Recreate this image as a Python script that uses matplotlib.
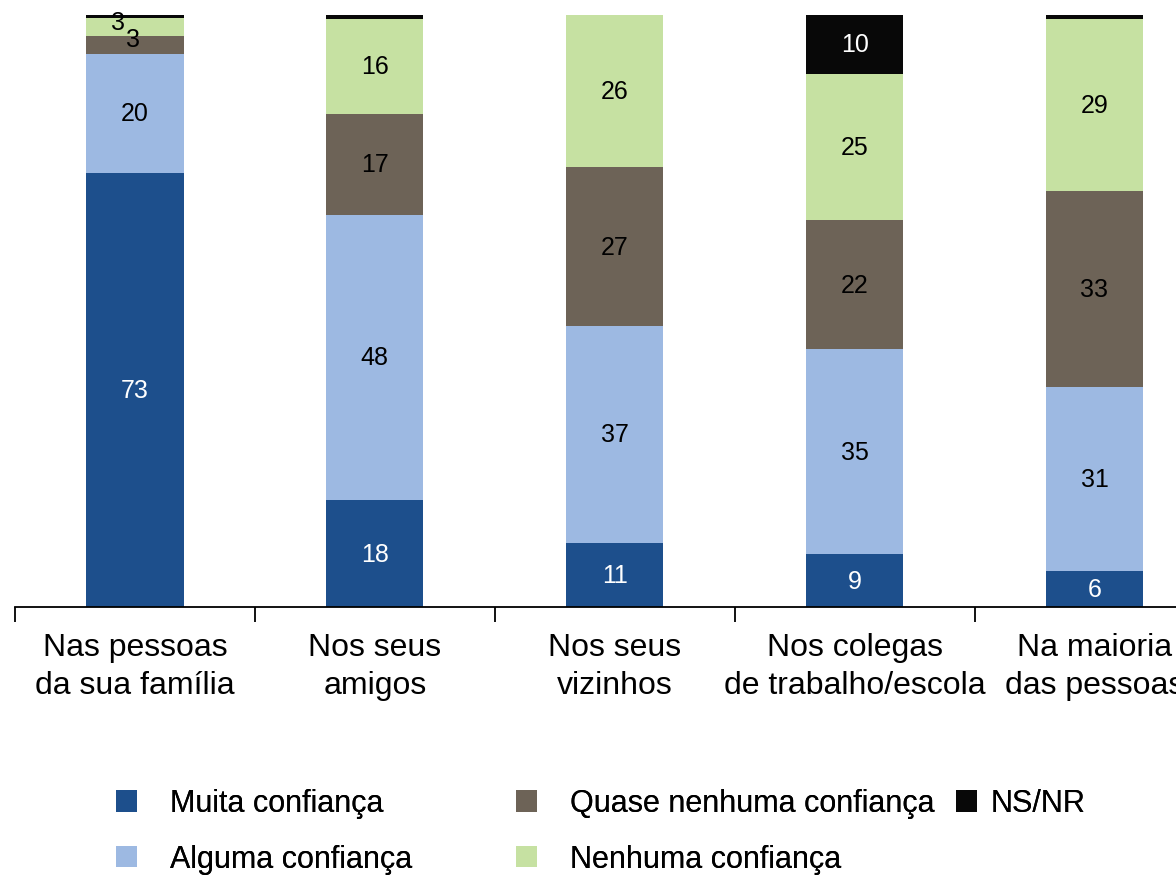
import numpy as np
import matplotlib.pyplot as plt
from matplotlib.patches import Patch

plt.rcParams['font.family'] = ['Liberation Sans', 'DejaVu Sans']

categorias = ["Nas pessoas\nda sua família", "Nos seus\namigos", "Nos seus\nvizinhos",
              "Nos colegas\nde trabalho/escola", "Na maioria\ndas pessoas"]
muita = [73, 18, 11, 9, 6]
alguma = [20, 48, 37, 35, 31]
quase = [3, 17, 27, 22, 33]
nenhuma = [3, 16, 26, 25, 29]
nsnr = [0.5, 0.6, 0, 10, 0.6]

series = [muita, alguma, quase, nenhuma, nsnr]
nomes = ["Muita confiança", "Alguma confiança", "Quase nenhuma confiança",
         "Nenhuma confiança", "NS/NR"]
cores = ["#1d4f8c", "#9db9e2", "#6d6357", "#c6e1a2", "#080808"]
cor_texto = ["white", "black", "black", "black", "white"]

# bars are drawn as 100% stacks (the rounded values do not always add to 100)
totais = np.sum(np.array(series, dtype=float), axis=0)

W, H = 1176, 879
fig = plt.figure(figsize=(W / 100, H / 100), dpi=100)
ax = fig.add_axes([15 / W, 1 - 608 / H, (W - 15) / W, 592 / H])

x = np.arange(len(categorias))
base = np.zeros(len(categorias))
for vals, cor, ct in zip(series, cores, cor_texto):
    vals = np.array(vals, dtype=float)
    alt = vals / totais * 100
    ax.bar(x, alt, bottom=base, width=0.405, color=cor, clip_on=False)
    for i, v in enumerate(vals):
        if v >= 5:
            ax.text(x[i], base[i] + alt[i] / 2, "%d" % v, ha="center", va="center",
                    fontsize=18, color=ct)
    base += alt

# small labels on the first bar (3 and 3)
f0 = 100 / totais[0]
b0 = (muita[0] + alguma[0]) * f0
ax.text(x[0] - 0.07, b0 + (quase[0] + nenhuma[0] / 2) * f0 + 0.8, "%d" % nenhuma[0],
        ha="center", va="center", fontsize=18, color="black")
ax.text(x[0] - 0.01, b0 + quase[0] / 2 * f0 + 1.0, "%d" % quase[0],
        ha="center", va="center", fontsize=18, color="black")

ax.set_xlim(-0.5, 4.34)
ax.set_ylim(0, 100)
for s in ["top", "right", "left"]:
    ax.spines[s].set_visible(False)
ax.spines["bottom"].set_linewidth(1.3)
ax.set_yticks([])
ax.set_xticks(x)
ax.set_xticklabels(categorias, fontsize=23, linespacing=1.35)
ax.tick_params(axis="x", length=0, pad=18)
ax.set_xticks(np.arange(-0.5, 4.5, 1), minor=True)
ax.tick_params(axis="x", which="minor", length=11, width=1.3, direction="out")

# legend in three columns, each placed where the reference has it
handles = [Patch(facecolor=c, edgecolor="none") for c in cores]
grupos = [[0, 1], [2, 3], [4]]
xs = [88, 488, 928]
pads = [1.1, 1.1, 0.45]
for g, xl, pd in zip(grupos, xs, pads):
    leg = fig.legend([handles[k] for k in g], [nomes[k] for k in g], loc="upper left",
                     bbox_to_anchor=(xl / W, 1 - 762 / H), frameon=False, fontsize=22,
                     handlelength=0.7, handleheight=0.7, handletextpad=pd,
                     labelspacing=0.85)
    fig.add_artist(leg)

fig.savefig("out.png", dpi=100)
